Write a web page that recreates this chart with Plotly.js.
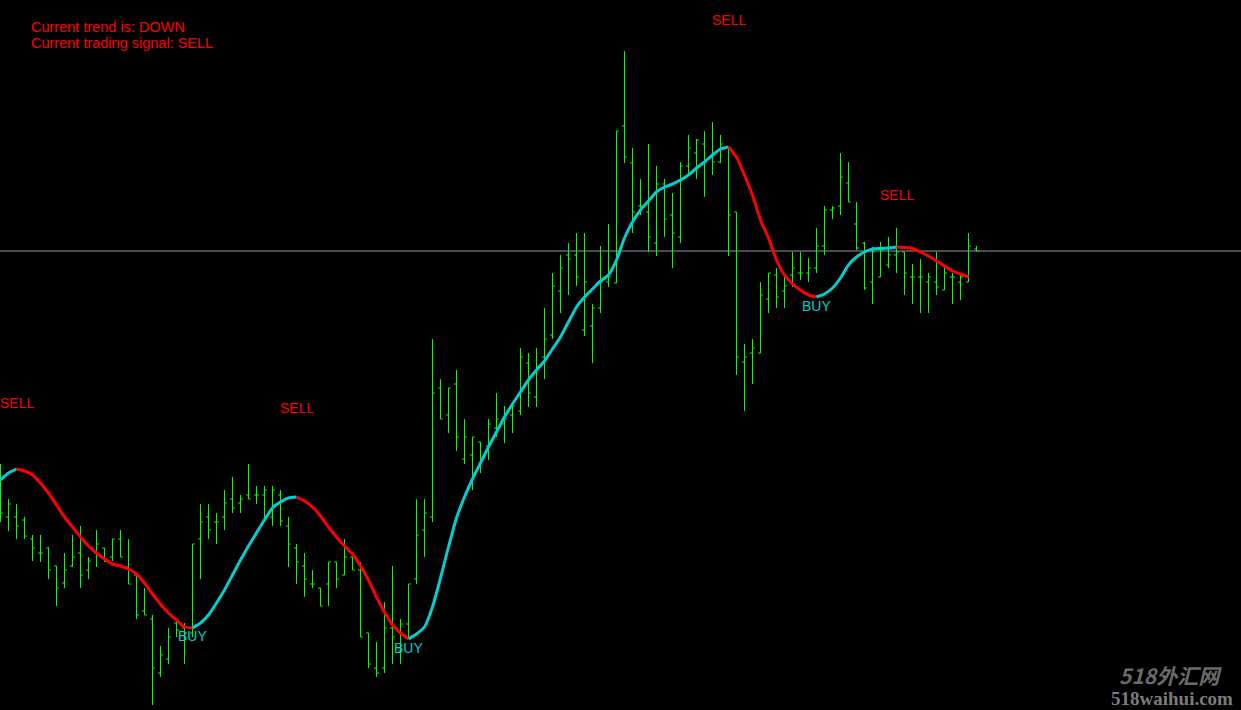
<!DOCTYPE html>
<html>
<head>
<meta charset="utf-8">
<script src="https://cdn.plot.ly/plotly-3.0.1.min.js"></script>
<style>
html,body{margin:0;padding:0;background:#000;}
#chart{width:1241px;height:710px;}
</style>
</head>
<body>
<div id="chart"></div>
<script>
// ---- DATA (price values in points) ----
const openPrices = [
  230,193,193,190,171,157,162,144,127,144,
  157,140,157,162,153,171,143,135,99,91,
  37,51,87,82,77,171,193,188,193,211,
  207,215,215,215,193,215,184,162,144,126,
  122,126,148,135,153,140,77,42,42,82,
  59,86,131,180,193,322,295,326,251,255,
  268,264,282,286,295,299,347,313,353,375,
  419,455,455,380,384,402,428,427,584,547,
  504,498,467,526,495,473,544,557,566,553,
  548,563,498,348,357,357,411,435,419,435,
  437,437,442,464,500,504,527,486,467,428,
  433,445,455,458,433,433,428,428,420,433,
  428,428,461];
const highPrices = [
  246,211,206,193,175,175,163,144,157,175,
  184,153,180,162,171,180,171,135,122,95,
  64,82,90,87,166,206,206,197,220,233,
  215,246,224,224,224,220,193,166,157,140,
  122,148,148,171,153,148,77,68,108,144,
  91,126,211,211,371,331,322,340,291,273,
  268,291,317,304,304,362,357,362,402,437,
  455,467,477,477,406,464,486,579,659,562,
  531,566,544,531,517,548,575,571,579,588,
  575,563,498,366,371,428,437,442,433,458,
  458,452,482,504,504,557,548,508,468,463,
  468,473,482,458,446,451,437,458,445,437,
  435,477,464];
const lowPrices = [
  188,179,171,171,149,148,131,104,122,143,
  122,131,143,148,149,153,126,91,95,5,
  33,46,73,46,73,131,171,166,180,197,
  197,211,206,188,184,184,143,126,113,122,
  104,104,122,135,140,73,42,33,37,46,
  46,73,126,153,188,291,277,259,246,220,
  237,250,273,267,277,295,303,303,331,371,
  397,415,424,374,347,397,423,427,547,477,
  495,458,454,473,442,467,535,531,513,535,
  547,454,335,299,326,357,397,402,402,423,
  430,428,437,455,491,495,508,460,420,406,
  433,442,437,415,406,397,397,415,420,406,
  410,428,459];
const closePrices = [
  197,206,184,174,162,157,140,122,140,153,
  135,149,166,149,171,153,126,95,95,42,
  55,73,80,77,166,188,180,188,207,202,
  211,211,215,220,220,189,166,148,131,126,
  104,148,131,153,140,73,46,37,82,73,
  86,126,175,197,317,291,322,273,273,273,
  250,286,291,291,304,353,317,343,371,424,
  442,451,433,428,402,428,433,579,553,498,
  504,473,526,491,477,544,562,570,548,548,
  566,495,353,353,362,415,437,413,424,442,
  437,442,464,500,502,533,508,462,422,458,
  460,455,458,437,433,433,433,423,437,433,
  433,464,459];
// smoothed trend line
const trendLine = [
  230,237,241,239,235,227,217,205,193,183,
  173,164,157,151,146,144,141,136,127,116,
  106,97,90,83,82,87,95,107,120,135,
  150,164,177,190,202,208,212,213,209,203,
  194,183,173,164,156,144,130,113,98,85,
  77,71,76,83,103,132,163,192,213,231,
  247,263,278,293,306,318,330,340,349,361,
  373,388,403,413,421,429,435,450,472,488,
  500,509,518,523,526,530,535,542,548,555,
  561,563,553,535,515,490,472,450,435,426,
  420,415,413,416,422,432,445,453,458,461,
  461.5,462,463,462.5,461.5,458,454,449,444,439,
  436,433];
// signal labels
const signalBar   = [2, 24, 37, 51, 91, 102, 112];
const signalPrice = [307, 74, 302, 62.5, 690, 404.5, 515.5];
const signalText  = ["SELL","BUY","SELL","BUY","SELL","BUY","SELL"];
const infoLines = ["Current trend is: DOWN", "Current trading signal: SELL"];
const watermark = ["518外汇网", "518waihui.com"];

// ---- BUILD ----
const W = 1241, H = 710;
const barIdx = openPrices.map((_, i) => i);
const RED = '#ff0000', CYAN = '#00ced1', GREEN = '#00ff00';

const traces = [{
  type: 'ohlc',
  x: barIdx, open: openPrices, high: highPrices, low: lowPrices, close: closePrices,
  increasing: {line: {color: GREEN, width: 1}},
  decreasing: {line: {color: GREEN, width: 1}},
  tickwidth: 0.3,
  hoverinfo: 'skip',
  showlegend: false
}];

const segUp = [];
for (let k = 0; k < trendLine.length - 1; k++) segUp.push(trendLine[k + 1] >= trendLine[k]);
let s = 0;
for (let k = 1; k <= segUp.length; k++) {
  if (k === segUp.length || segUp[k] !== segUp[s]) {
    traces.push({
      type: 'scatter', mode: 'lines',
      x: barIdx.slice(s, k + 1), y: trendLine.slice(s, k + 1),
      line: {color: segUp[s] ? CYAN : RED, width: 3, shape: 'spline', smoothing: 0.5},
      hoverinfo: 'skip', showlegend: false
    });
    s = k;
  }
}

const annotations = [];
signalBar.forEach((b, i) => {
  annotations.push({
    xref: 'x', yref: 'y', x: b, y: signalPrice[i], text: signalText[i],
    showarrow: false, xanchor: 'center', yanchor: 'middle',
    font: {family: 'Liberation Sans, Arial, sans-serif', size: 14,
           color: signalText[i] === 'SELL' ? RED : CYAN}
  });
});
infoLines.forEach((t, i) => {
  annotations.push({
    xref: 'paper', yref: 'paper', x: 29 / W, y: 1 - (27 + 16 * i) / H, text: t,
    showarrow: false, xanchor: 'left', yanchor: 'middle',
    font: {family: 'Liberation Sans, Arial, sans-serif', size: 14.5, color: RED}
  });
});
annotations.push({
  xref: 'paper', yref: 'paper', x: 1170 / W, y: 1 - 675 / H, text: watermark[0],
  showarrow: false, xanchor: 'center', yanchor: 'middle',
  font: {family: 'Noto Sans CJK SC, sans-serif', size: 21, color: '#6a6a6a', style: 'italic', weight: 'bold'}
});
annotations.push({
  xref: 'paper', yref: 'paper', x: 1172 / W, y: 1 - 698 / H, text: watermark[1],
  showarrow: false, xanchor: 'center', yanchor: 'middle',
  font: {family: 'Liberation Serif, DejaVu Serif, serif', size: 19, color: '#7c7c7c', weight: 'bold'}
});

const lastClose = closePrices[closePrices.length - 1];
const layout = {
  width: W, height: H,
  margin: {l: 0, r: 0, t: 0, b: 0, pad: 0},
  paper_bgcolor: '#000000', plot_bgcolor: '#000000',
  showlegend: false,
  xaxis: {range: [-0.0625, W / 8 - 0.0625], visible: false, showgrid: false, zeroline: false,
          rangeslider: {visible: false}, fixedrange: true},
  yaxis: {range: [0, H], visible: false, showgrid: false, zeroline: false, fixedrange: true},
  shapes: [{type: 'line', xref: 'paper', yref: 'y', x0: 0, x1: 1, y0: lastClose, y1: lastClose,
            line: {color: '#8c96a8', width: 1}, layer: 'below'}],
  annotations: annotations
};

Plotly.newPlot('chart', traces, layout, {displayModeBar: false, staticPlot: true});
</script>
</body>
</html>
